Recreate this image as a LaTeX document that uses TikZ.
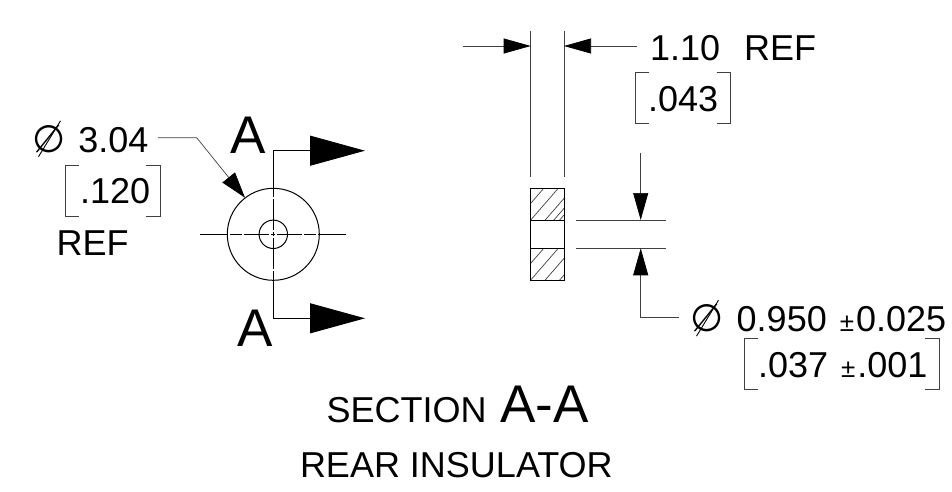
\documentclass[tikz,border=0pt]{standalone}
\usepackage{fontspec}
\setmainfont{Liberation Sans}
\newfontfamily\symfont{DejaVu Sans}
\usetikzlibrary{arrows.meta}

\newcommand{\dia}{{\symfont\fontsize{38}{38}\selectfont ∅}}
\newcommand{\tol}{\hspace{3pt}{\fontsize{26}{26}\selectfont ±}\hspace{2pt}}

\begin{document}
\begin{tikzpicture}[
  x=1pt,y=-1pt,
  every node/.style={inner sep=0pt,outer sep=0pt,anchor=base west},
  dimtext/.style={font=\fontsize{36}{36}\selectfont},
  bigtext/.style={font=\fontsize{53}{53}\selectfont},
  bracket/.style={minimum width=#1,anchor=north west,minimum height=51pt},
  thinline/.style={line width=0.7pt,black!75},
  part/.style={line width=1pt},
  flow/.style={thinline,-{Triangle[length=27pt,width=15pt,color=black]}},
  cutarrow/.style={part,-{Triangle[length=55pt,width=30pt]}}]

\useasboundingbox (0,0) rectangle (952,491);

% Left view
\coordinate (center) at (273.3,234.3);
\coordinate (west) at (200,234.3);
\coordinate (east) at (346.7,234.3);
\coordinate (cutTop) at (273.3,150.7);
\coordinate (cutBottom) at (273.3,318.3);
\coordinate (arrowTop) at (365,150.7);
\coordinate (arrowBottom) at (365,318.3);

\draw[part] (center) circle (46);
\draw[part] (center) circle (14.2);
\draw[part,dash pattern=on 28pt off 2pt on 12pt off 2pt on 25pt off 2pt on 4pt off 2pt on 25pt off 2pt on 12pt off 2pt on 28pt off 9pt] (west) -- (east);
\draw[cutarrow] (cutTop) -- (arrowTop);
\draw[cutarrow] (cutBottom) -- (arrowBottom);
\draw[part,dash pattern=on 46pt off 2pt on 31pt off 2pt on 4pt off 2pt on 31pt off 2pt on 48pt off 9pt] (cutTop) -- (cutBottom);

\node[bigtext] (cutLabelTop) at (230,153.3) {A};
\node[bigtext] (cutLabelBottom) at (237,346) {A};

% Outer diameter
\node[dimtext] (diaOuter) at (32,152.3) {\dia};
\node[dimtext] (outerValue) at (78.3,152.3) {3.04};
\node[dimtext,bracket=95pt] (outerInch) at (65,165) {};
\node[dimtext] (outerInchValue) at (80,203.3) {.120};
\node[dimtext] (outerRef) at (56.7,255) {REF};
\coordinate (outerKnee) at (196.7,137.7);
\coordinate (outerEnd) at (245,197.7);
\coordinate (outerStart) at (158,137.7);
\draw[thinline,-{Triangle[length=26pt,width=16pt,color=black]}] (outerStart) -- (outerKnee) -- (outerEnd);

% Section view
\coordinate (secA) at (530.7,188.3);
\coordinate (secB) at (564,280);
\begin{scope}
  \clip (530.7,188.3) rectangle (564,220) (530.7,248.3) rectangle (564,280);
  \foreach \x in {-2,...,3}{
    \draw[thinline] (530.7+\x*14.5,220) -- ++(100,-115);
    \draw[thinline] (530.7+\x*14.5,280) -- ++(100,-115);
  }
\end{scope}
\draw[part] (secA) rectangle (secB);
\draw[part] (530.7,220) -- (564,220);
\draw[part] (530.7,248.3) -- (564,248.3);

% Width dimension
\coordinate (extLeft) at (530.7,46);
\coordinate (extRight) at (564,46);
\draw[thinline] (530.7,30.7) -- (530.7,176.7);
\draw[thinline] (564,30.7) -- (564,176.7);
\draw[flow] (463.3,46) -- (extLeft);
\draw[flow] (636.7,46) -- (extRight);
\node[dimtext] (widthValue) at (650,60) {1.10};
\node[dimtext] (widthRef) at (744,60) {REF};
\node[dimtext,bracket=95.7pt] (widthInch) at (635,72.3) {};
\node[dimtext] (widthInchValue) at (648,111) {.043};

% Hole dimension
\draw[thinline] (575.7,220) -- (665.7,220);
\draw[thinline] (575.7,248.3) -- (665.7,248.3);
\coordinate (holeTop) at (640.7,220);
\coordinate (holeBottom) at (640.7,248.3);
\coordinate (holeKnee) at (640.7,317.7);
\draw[flow] (640.7,152.7) -- (holeTop);
\draw[flow] (679.3,317.7) -- (holeKnee) -- (holeBottom);
\node[dimtext] (diaHole) at (690,331.7) {\dia};
\node[dimtext] (holeValue) at (736.7,331.7) {0.950 \tol0.025};
\node[dimtext,bracket=195.3pt] (holeInch) at (744,338.3) {};
\node[dimtext] (holeInchValue) at (758,377.3) {.037 \tol.001};

% Long slash of the diameter signs
\foreach \n in {diaOuter,diaHole}
  \draw[line width=0.9pt] ([xshift=6.5pt,yshift=-4.4pt]\n.base west) -- ([xshift=28.5pt,yshift=31.5pt]\n.base west);

% Brackets
\foreach \n in {outerInch,widthInch,holeInch}{
  \draw[thinline] ([xshift=14pt]\n.north west) -- (\n.north west) -- (\n.south west) -- ++(14,0);
  \draw[thinline] ([xshift=-14pt]\n.north east) -- (\n.north east) -- (\n.south east) -- ++(-14,0);
}

% Titles
\node[dimtext] (sectionWord) at (326.7,422) {SECTION};
\node[bigtext] (sectionName) at (500,422) {A-A};
\node[dimtext] (partName) at (300,477.7) {REAR INSULATOR};

\end{tikzpicture}
\end{document}
